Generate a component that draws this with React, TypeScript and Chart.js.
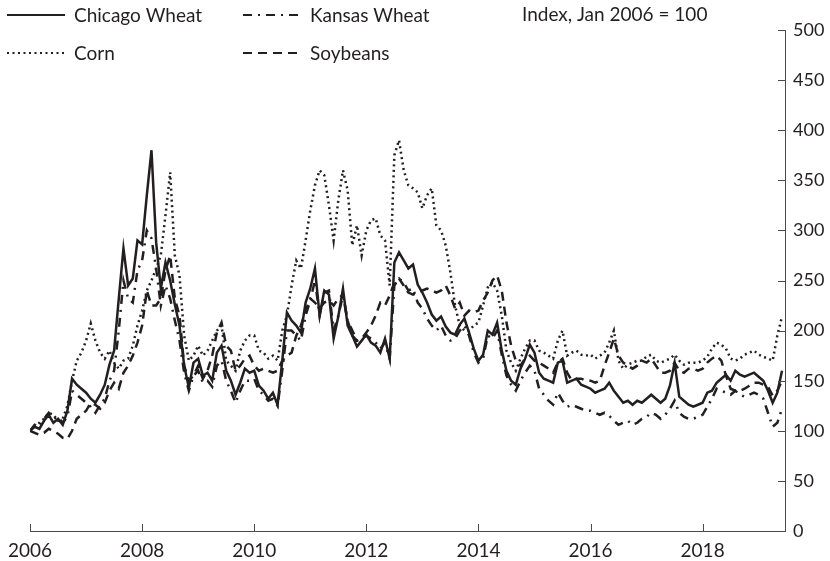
import React, { useEffect, useRef } from 'react';
import { Chart, registerables } from 'chart.js';

Chart.register(...registerables);

// Monthly observations, Jan 2006 .. Jun 2019 (index, Jan 2006 = 100)
const FIRST_YEAR = 2006;
const MONTH_COUNT = 162;
const monthDates: number[] = Array.from({ length: MONTH_COUNT }, (_, i) => FIRST_YEAR + i / 12);

const xTickYears = [2006, 2008, 2010, 2012, 2014, 2016, 2018];
const yTickValues = [0, 50, 100, 150, 200, 250, 300, 350, 400, 450, 500];

const seriesNames = ['Chicago Wheat', 'Kansas Wheat', 'Corn', 'Soybeans'];
const noteText = 'Index, Jan 2006 = 100';

const chicagoWheat = [
  100, 104, 102, 110, 116, 108, 112, 106, 120, 152, 146, 142,
  138, 132, 128, 136, 146, 166, 180, 232, 282, 245, 252, 290,
  286, 335, 380, 288, 242, 268, 250, 226, 205, 165, 143, 168,
  172, 155, 158, 150, 178, 185, 160, 150, 136, 148, 162, 158,
  160, 145, 140, 132, 138, 126, 170, 218, 210, 205, 198, 228,
  242, 262, 215, 240, 236, 192, 214, 242, 205, 195, 184, 190,
  196, 188, 185, 178, 192, 172, 268, 278, 270, 262, 266, 246,
  238, 228, 216, 210, 214, 204, 198, 196, 206, 212, 198, 182,
  170, 176, 200, 196, 208, 180, 160, 150, 146, 162, 172, 186,
  178, 158, 152, 150, 148, 168, 170, 148, 150, 152, 146, 144,
  142, 138, 140, 142, 148, 140, 134, 128, 130, 126, 130, 128,
  132, 136, 132, 128, 132, 145, 168, 134, 130, 126, 124, 126,
  128, 138, 140, 148, 152, 156, 150, 160, 156, 154, 156, 158,
  154, 150, 140, 128, 138, 160,
];

const kansasWheat = [
  100, 106, 104, 112, 118, 112, 114, 108, 114, 140, 136, 132,
  128, 124, 118, 126, 132, 150, 160, 200, 250, 232, 228, 260,
  270, 300, 292, 262, 225, 245, 232, 210, 190, 158, 140, 155,
  160, 148, 150, 144, 165, 170, 150, 140, 128, 140, 150, 150,
  152, 140, 136, 130, 132, 125, 160, 200, 200, 195, 190, 215,
  230, 250, 215, 238, 240, 200, 215, 235, 210, 200, 190, 192,
  195, 192, 188, 182, 188, 172, 245, 252, 248, 240, 242, 228,
  222, 212, 205, 200, 205, 195, 190, 192, 200, 205, 195, 178,
  168, 172, 195, 192, 200, 176, 155, 146, 140, 150, 158, 165,
  160, 142, 136, 130, 126, 138, 130, 124, 126, 124, 122, 120,
  120, 118, 116, 118, 115, 110, 106, 108, 110, 106, 108, 112,
  114, 118, 116, 112, 116, 122, 130, 118, 114, 112, 112, 114,
  116, 124, 132, 142, 140, 138, 136, 140, 136, 134, 136, 138,
  136, 132, 118, 104, 108, 122,
];

const corn = [
  100, 104, 108, 112, 118, 116, 110, 112, 125, 150, 170, 178,
  190, 207, 190, 178, 172, 180, 168, 162, 170, 172, 185, 205,
  220, 240, 250, 262, 275, 315, 358, 275, 255, 195, 170, 175,
  185, 175, 180, 190, 200, 205, 170, 165, 160, 180, 190, 195,
  195, 180, 178, 172, 175, 170, 200, 215, 245, 270, 262, 290,
  320, 345, 360, 355, 325, 290, 330, 360, 340, 285, 305, 275,
  300, 310, 312, 295, 290, 245, 375, 390, 360, 345, 342, 338,
  322, 335, 342, 305, 300, 285, 258, 225, 205, 200, 200, 205,
  208, 225, 243, 248, 240, 215, 180, 168, 160, 172, 182, 190,
  190, 180, 178, 175, 172, 190, 200, 175, 178, 180, 176, 175,
  176, 172, 175, 178, 188, 200, 170, 162, 166, 168, 170, 170,
  174, 176, 170, 168, 170, 172, 176, 170, 166, 168, 168, 168,
  170, 174, 182, 188, 186, 182, 172, 170, 172, 176, 178, 180,
  176, 174, 172, 170, 195, 214,
];

const soybeans = [
  100, 98, 96, 98, 102, 100, 97, 93, 92, 100, 112, 116,
  120, 128, 126, 122, 128, 140, 148, 142, 158, 165, 175, 188,
  205, 240, 225, 225, 232, 260, 275, 232, 215, 165, 150, 155,
  165, 152, 160, 175, 198, 208, 185, 180, 160, 165, 172, 175,
  165, 160, 162, 160, 158, 160, 170, 175, 178, 195, 205, 220,
  232, 228, 222, 228, 230, 225, 232, 236, 210, 195, 190, 192,
  198, 205, 215, 228, 225, 235, 248, 252, 245, 238, 236, 238,
  240, 242, 240, 238, 240, 245, 235, 222, 228, 215, 220, 218,
  220, 230, 238, 250, 255, 240, 208, 185, 170, 165, 172, 175,
  170, 168, 165, 162, 158, 168, 172, 158, 150, 152, 152, 150,
  150, 148, 150, 165, 178, 192, 175, 168, 165, 162, 165, 170,
  168, 172, 165, 158, 158, 160, 168, 160, 158, 162, 162, 160,
  162, 168, 172, 175, 170, 155, 142, 140, 140, 142, 145, 148,
  148, 146, 144, 135, 140, 150,
];

const seriesValues = [chicagoWheat, kansasWheat, corn, soybeans];
const seriesDashes: number[][] = [[], [9, 6, 2, 6], [2, 3.5], [9, 6]];

const INK = '#231f20';
const AXIS = '#4a4a4a';
const FONT = 'Lato, "Open Sans", sans-serif';

const decorPlugin = {
  id: 'decor',
  afterDraw(chart: any) {
    const { ctx, chartArea } = chart;
    const xs = chart.scales.x;
    const ys = chart.scales.y;
    ctx.save();
    ctx.strokeStyle = AXIS;
    ctx.lineWidth = 1;
    ctx.setLineDash([]);
    for (const v of yTickValues) {
      const py = Math.round(ys.getPixelForValue(v)) + 0.5;
      ctx.beginPath();
      ctx.moveTo(chartArea.right - 7, py);
      ctx.lineTo(chartArea.right, py);
      ctx.stroke();
    }
    for (const v of xTickYears) {
      const px = Math.round(xs.getPixelForValue(v)) + 0.5;
      ctx.beginPath();
      ctx.moveTo(px, chartArea.bottom - 7);
      ctx.lineTo(px, chartArea.bottom);
      ctx.stroke();
    }

    // legend
    const items = [
      { i: 0, x: 7, row: 0 },
      { i: 1, x: 243, row: 0 },
      { i: 2, x: 7, row: 1 },
      { i: 3, x: 243, row: 1 },
    ];
    const lineY = [15, 53];
    const baseY = [21.5, 59.5];
    ctx.font = `19px ${FONT}`;
    ctx.fillStyle = INK;
    ctx.textBaseline = 'alphabetic';
    ctx.textAlign = 'left';
    for (const it of items) {
      ctx.strokeStyle = INK;
      ctx.lineWidth = 2;
      ctx.setLineDash(seriesDashes[it.i]);
      ctx.beginPath();
      ctx.moveTo(it.x, lineY[it.row]);
      ctx.lineTo(it.x + 58, lineY[it.row]);
      ctx.stroke();
      ctx.fillText(seriesNames[it.i], it.x + 67, baseY[it.row]);
    }
    ctx.fillText(noteText, 522, 21);
    ctx.restore();
  },
};

export default function App() {
  const ref = useRef<HTMLCanvasElement | null>(null);
  useEffect(() => {
    if (!ref.current) return;
    const datasets = seriesNames.map((name, k) => ({
      label: name,
      data: monthDates.map((d, i) => ({ x: d, y: seriesValues[k][i] })),
      borderColor: INK,
      backgroundColor: INK,
      borderWidth: 2.5,
      borderDash: seriesDashes[k],
      pointRadius: 0,
      tension: 0,
      fill: false,
    }));
    const chart = new Chart(ref.current, {
      type: 'line',
      data: { datasets },
      options: {
        animation: false,
        responsive: true,
        maintainAspectRatio: false,
        layout: { padding: { left: 30, top: 30, right: 0, bottom: 0 } },
        plugins: { legend: { display: false }, tooltip: { enabled: false } },
        scales: {
          x: {
            type: 'linear',
            min: 2006,
            max: 2019.47,
            grid: { display: false, drawTicks: false },
            border: { display: true, color: AXIS, width: 1 },
            ticks: {
              stepSize: 2,
              includeBounds: false,
              autoSkip: false,
              maxRotation: 0,
              padding: 8,
              color: INK,
              font: { family: FONT, size: 19 },
              callback: (v: any) => (xTickYears.includes(Number(v)) ? String(v) : ''),
            },
            afterFit: (s: any) => { s.height = 30; },
          },
          y: {
            position: 'right',
            min: 0,
            max: 500,
            grid: { display: false, drawTicks: false },
            border: { display: true, color: AXIS, width: 1 },
            ticks: {
              stepSize: 50,
              padding: 8,
              color: INK,
              font: { family: FONT, size: 18 },
            },
            afterFit: (s: any) => { s.width = 45; },
          },
        },
      },
      plugins: [decorPlugin],
    });
    return () => chart.destroy();
  }, []);
  return (
    <div style={{ position: 'fixed', left: 0, top: 0, width: 830, height: 561, background: '#fff' }}>
      <canvas ref={ref} />
    </div>
  );
}
